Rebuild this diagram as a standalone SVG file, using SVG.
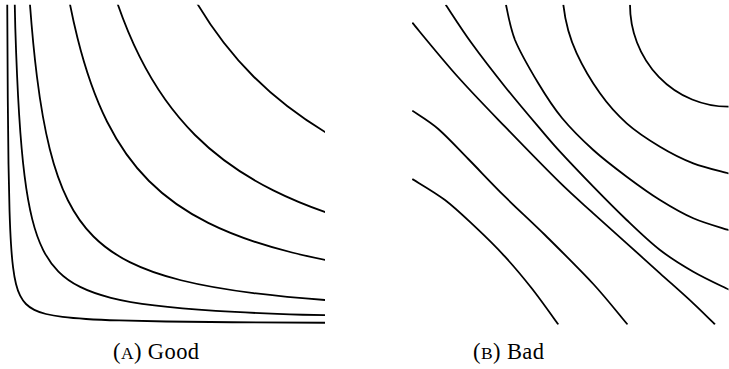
<svg xmlns="http://www.w3.org/2000/svg" xmlns:xlink="http://www.w3.org/1999/xlink" width="729" height="369" viewBox="0 0 729 369">
<style>
.c{fill:none;stroke:#000;stroke-linejoin:round}
.b{fill:none;stroke:#000;stroke-width:1.8;stroke-linejoin:round;stroke-linecap:butt}
.cap{font-family:"Liberation Serif","Times New Roman",serif;font-size:22.5px;letter-spacing:0.4px;fill:#000}
.sc{font-size:17.5px}
</style>
<defs>
<clipPath id="clipA"><rect x="0" y="4.7" width="325" height="330"/></clipPath>
<clipPath id="clipB"><rect x="412" y="4.7" width="316.5" height="320"/></clipPath>
<path id="hyp" d="M0.03125,32 C0.035565,27.5817 0.039879,24.8365 0.044194,22.6274 C0.050296,19.5032 0.056398,17.5620 0.0625,16 C0.071129,13.7909 0.079759,12.4183 0.088388,11.3137 C0.100592,9.75164 0.112797,8.78101 0.125,8 C0.142259,6.89543 0.159518,6.20914 0.176777,5.65685 C0.201184,4.87582 0.225592,4.39051 0.25,4 C0.284518,3.44772 0.319036,3.10457 0.353553,2.82843 C0.402369,2.43791 0.451184,2.19526 0.5,2 C0.569036,1.72386 0.638071,1.55228 0.707107,1.41421 C0.804738,1.21895 0.902369,1.09763 1,1 C1.138071,0.861929 1.276142,0.776142 1.414214,0.707107 C1.609476,0.609476 1.804738,0.548816 2,0.5 C2.276142,0.430964 2.552284,0.388071 2.828427,0.353553 C3.218951,0.304738 3.609476,0.274408 4,0.25 C4.552284,0.215482 5.104568,0.194036 5.656854,0.176777 C6.437902,0.152369 7.218951,0.137204 8,0.125 C9.104568,0.107741 10.209136,0.097018 11.313708,0.088388 C12.875805,0.076184 14.437902,0.068602 16,0.0625 C18.209136,0.053871 20.418272,0.048509 22.627417,0.044194 C25.751610,0.038092 28.875805,0.034301 32,0.03125"/>
</defs>
<rect width="729" height="369" fill="#fff"/>
<g id="panelA" clip-path="url(#clipA)">
<use xlink:href="#hyp" class="c" transform="translate(6,324) scale(20,-20)" style="stroke-width:0.09"/>
<use xlink:href="#hyp" class="c" transform="translate(6,324) scale(52.44,-52.44)" style="stroke-width:0.03432"/>
<use xlink:href="#hyp" class="c" transform="translate(6,324) scale(87.5,-87.5)" style="stroke-width:0.02057"/>
<use xlink:href="#hyp" class="c" transform="translate(6,324) scale(143,-143)" style="stroke-width:0.01259"/>
<use xlink:href="#hyp" class="c" transform="translate(6,324) scale(189,-189)" style="stroke-width:0.009524"/>
<use xlink:href="#hyp" class="c" transform="translate(6,324) scale(247.5,-247.5)" style="stroke-width:0.007273"/>
</g>
<g id="panelB" clip-path="url(#clipB)">
<path class="b" d="M412.3,179 C417.8,182.5 434.6,192.1 445,200 C455.5,208 465,217.3 475,226.7 C485,236.1 495.6,246.4 505,256.7 C514.5,267 522.8,277 531.7,288.3 C540.6,299.6 553.9,318.5 558.3,324.5"/>
<path class="b" d="M412.3,110.7 C416.6,113.8 429,121 438.3,129 C447.6,137.1 457.2,147.7 468.3,159 C479.4,170.3 492.2,184 505,196.7 C517.8,209.4 530.3,220.5 545,235 C559.7,249.6 579.7,269.3 593.3,284 C606.9,298.8 621.1,317.1 626.7,323.5 L627.5,324.5"/>
<path class="b" d="M412.3,22.7 C419.9,31.8 442.5,59.7 458,77 C473.5,94.3 488,109.1 505,126.7 C522,144.3 545.3,168.3 560,182.7 C574.7,197.1 582.2,203.2 593.3,213.3 C604.4,223.4 615.6,233.3 626.7,243.3 C637.8,253.3 648.9,263.3 660,273.3 C671.1,283.3 684.3,294.9 693.3,303.3 C702.3,311.7 710.6,320.1 714,323.5 L715,324.5"/>
<path class="b" d="M445.7,4.7 C450,11.1 461.8,29.6 471.7,43.3 C481.6,57 493.9,72.8 505,86.7 C516.1,100.6 529.1,115.9 538.3,126.7 C547.5,137.5 550.8,141.7 560,151.7 C569.2,161.7 582.2,175.3 593.3,186.7 C604.4,198.1 615.6,209.5 626.7,220 C637.8,230.6 648.9,241.4 660,250 C671.1,258.6 681.9,265.2 693.3,271.7 C704.7,278.3 722.5,286.4 728.3,289.3 L729,289.6"/>
<path class="b" d="M506,4.7 C507.5,12 510,27 515,40 C520.4,53.1 530.5,70.3 538.3,83.3 C546.1,96.3 552.8,106.9 562,118 C571.2,129.1 582.5,140.2 593.3,150 C604.1,159.8 615.6,168.4 626.7,176.7 C637.8,185 648.9,193.1 660,200 C671.1,206.9 681.9,213.3 693.3,218.3 C704.7,223.3 722.5,228.1 728.3,230 L729,230.2"/>
<path class="b" d="M563.3,4.7 C564.5,15 568.5,36 576.7,53.3 C583.5,68 591.7,81.6 600,93.3 C608.3,105 616.7,114.4 626.7,123.3 C636.7,132.2 648.9,140 660,146.7 C671.1,153.4 681.9,158.9 693.3,163.3 C704.7,167.7 722.5,171.6 728.3,173.3 L729,173.5"/>
<path class="b" d="M630,4.7 A98.3,102 0 0 0 728.3,106.7 L729,106.7"/>
</g>
<g id="captions">
<text class="cap" x="113" y="359">(<tspan class="sc">A</tspan>) Good</text>
<text class="cap" x="473" y="359">(<tspan class="sc">B</tspan>) Bad</text>
</g>
</svg>
